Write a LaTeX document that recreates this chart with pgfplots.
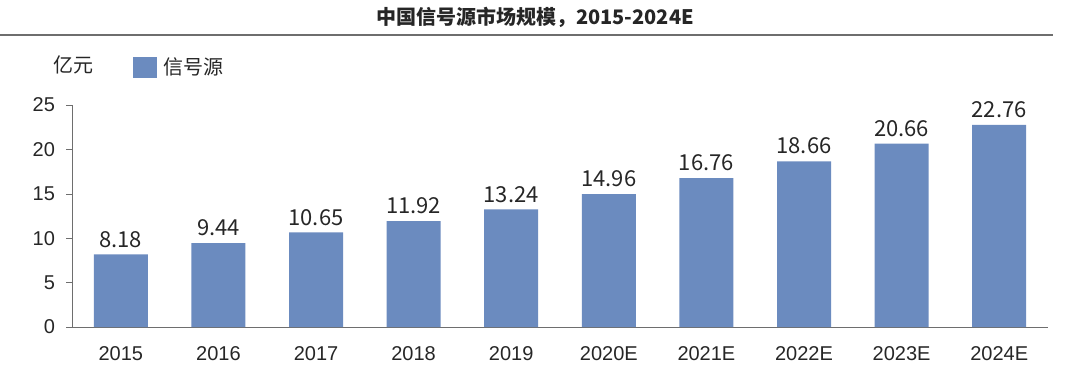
\documentclass[border=0pt]{standalone}
\usepackage{pgfplots}
\pgfplotsset{compat=1.18}
\usepackage{fontspec}
\setmainfont{Liberation Sans}
\newfontfamily\cjk{Noto Sans CJK SC}
\definecolor{barblue}{RGB}{107,139,191}
\definecolor{axisgray}{RGB}{110,110,110}
\begin{document}
\begin{tikzpicture}
\begin{axis}[
  scale only axis, width=488pt, height=111pt,
  xmin=-0.5, xmax=9.5, ymin=0, ymax=25,
  axis x line*=bottom, axis y line*=left,
  axis line style={-, draw=axisgray},
  ytick={0,5,10,15,20,25},
  xtick=data,
  xticklabels={2015,2016,2017,2018,2019,2020E,2021E,2022E,2023E,2024E},
  major x tick style={draw=none},
  major y tick style={draw=axisgray},
  tick align=outside, major tick length=3pt,
  tick label style={font=\fontsize{10}{12}\selectfont, text=black!85},
  xticklabel style={yshift=-3pt},
  yticklabel style={xshift=-2pt},
  /pgf/number format/assume math mode=true,
  ybar, bar width=27pt,
  nodes near coords,
  nodes near coords style={font=\cjk\fontsize{11}{13}\selectfont, text=black!85,
    /pgf/number format/fixed, /pgf/number format/precision=2,
    /pgf/number format/fixed zerofill, /pgf/number format/assume math mode=true},
]
\addplot[fill=barblue, draw=none] coordinates {
  (0,8.18) (1,9.44) (2,10.65) (3,11.92) (4,13.24)
  (5,14.96) (6,16.76) (7,18.66) (8,20.66) (9,22.76)};
\end{axis}
\path[use as bounding box] (-36pt,-30.5pt) rectangle (504pt,163.5pt);
\node[font=\cjk\bfseries\fontsize{10}{12}\selectfont, text=black!85] at (231.5pt,155pt) {中国信号源市场规模，2015-2024E};
\draw[axisgray, line width=0.6pt] (-36pt,146pt) -- (490.5pt,146pt);
\fill[barblue] (30.5pt,124.75pt) rectangle (42.5pt,135.25pt);
\node[font=\cjk\fontsize{10}{12}\selectfont, text=black!85, anchor=west, inner sep=0pt] at (45.5pt,130pt) {信号源};
\node[font=\cjk\fontsize{10}{12}\selectfont, text=black!85] at (0.5pt,131pt) {亿元};
\end{tikzpicture}
\end{document}
